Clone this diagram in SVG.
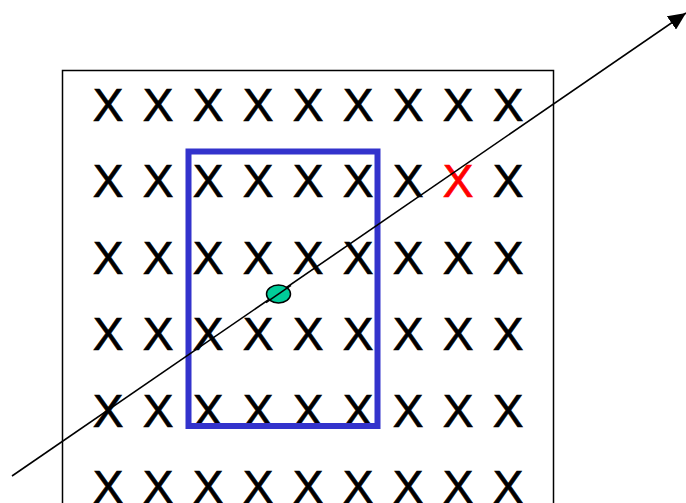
<svg xmlns="http://www.w3.org/2000/svg" width="686" height="503" viewBox="0 0 686 503">
<defs>
<style>
.x{font-family:"Liberation Sans",Arial,sans-serif;font-size:46px;text-anchor:middle;fill:#000;stroke:#000;stroke-width:0.7}
.red{fill:#FF0000;stroke:#FF0000}
</style>
<marker id="ah" viewBox="0 0 10 10" refX="10" refY="5" markerWidth="11" markerHeight="10" markerUnits="strokeWidth" orient="auto" preserveAspectRatio="none">
<path d="M0,0 L10,5 L0,10 z" fill="#000"/>
</marker>
</defs>
<rect width="686" height="503" fill="#fff"/>
<g id="frame"><rect x="62.5" y="70.5" width="491" height="460" fill="none" stroke="#000" stroke-width="1.5"/></g>
<g id="grid">
<text class="x" x="108" y="120.5">X</text><text class="x" x="158" y="120.5">X</text><text class="x" x="208" y="120.5">X</text><text class="x" x="258" y="120.5">X</text><text class="x" x="308" y="120.5">X</text><text class="x" x="358" y="120.5">X</text><text class="x" x="408" y="120.5">X</text><text class="x" x="458" y="120.5">X</text><text class="x" x="508" y="120.5">X</text>
<text class="x" x="108" y="197">X</text><text class="x" x="158" y="197">X</text><text class="x" x="208" y="197">X</text><text class="x" x="258" y="197">X</text><text class="x" x="308" y="197">X</text><text class="x" x="358" y="197">X</text><text class="x" x="408" y="197">X</text><text class="x red" x="458" y="197">X</text><text class="x" x="508" y="197">X</text>
<text class="x" x="108" y="273.5">X</text><text class="x" x="158" y="273.5">X</text><text class="x" x="208" y="273.5">X</text><text class="x" x="258" y="273.5">X</text><text class="x" x="308" y="273.5">X</text><text class="x" x="358" y="273.5">X</text><text class="x" x="408" y="273.5">X</text><text class="x" x="458" y="273.5">X</text><text class="x" x="508" y="273.5">X</text>
<text class="x" x="108" y="350">X</text><text class="x" x="158" y="350">X</text><text class="x" x="208" y="350">X</text><text class="x" x="258" y="350">X</text><text class="x" x="308" y="350">X</text><text class="x" x="358" y="350">X</text><text class="x" x="408" y="350">X</text><text class="x" x="458" y="350">X</text><text class="x" x="508" y="350">X</text>
<text class="x" x="108" y="426.5">X</text><text class="x" x="158" y="426.5">X</text><text class="x" x="208" y="426.5">X</text><text class="x" x="258" y="426.5">X</text><text class="x" x="308" y="426.5">X</text><text class="x" x="358" y="426.5">X</text><text class="x" x="408" y="426.5">X</text><text class="x" x="458" y="426.5">X</text><text class="x" x="508" y="426.5">X</text>
<text class="x" x="108" y="503">X</text><text class="x" x="158" y="503">X</text><text class="x" x="208" y="503">X</text><text class="x" x="258" y="503">X</text><text class="x" x="308" y="503">X</text><text class="x" x="358" y="503">X</text><text class="x" x="408" y="503">X</text><text class="x" x="458" y="503">X</text><text class="x" x="508" y="503">X</text>
</g>
<g id="window"><rect x="188.5" y="151.5" width="189" height="274.5" fill="none" stroke="#3333CC" stroke-width="6"/></g>
<g id="connectors"><line x1="12" y1="476" x2="686" y2="13" stroke="#000" stroke-width="1.6" marker-end="url(#ah)"/></g>
<g id="point"><ellipse cx="278.5" cy="294" rx="12" ry="9" fill="#00CC99" stroke="#000" stroke-width="1.5"/>
<line x1="266" y1="302.6" x2="291" y2="285.4" stroke="#000" stroke-width="1.6"/></g>
</svg>
